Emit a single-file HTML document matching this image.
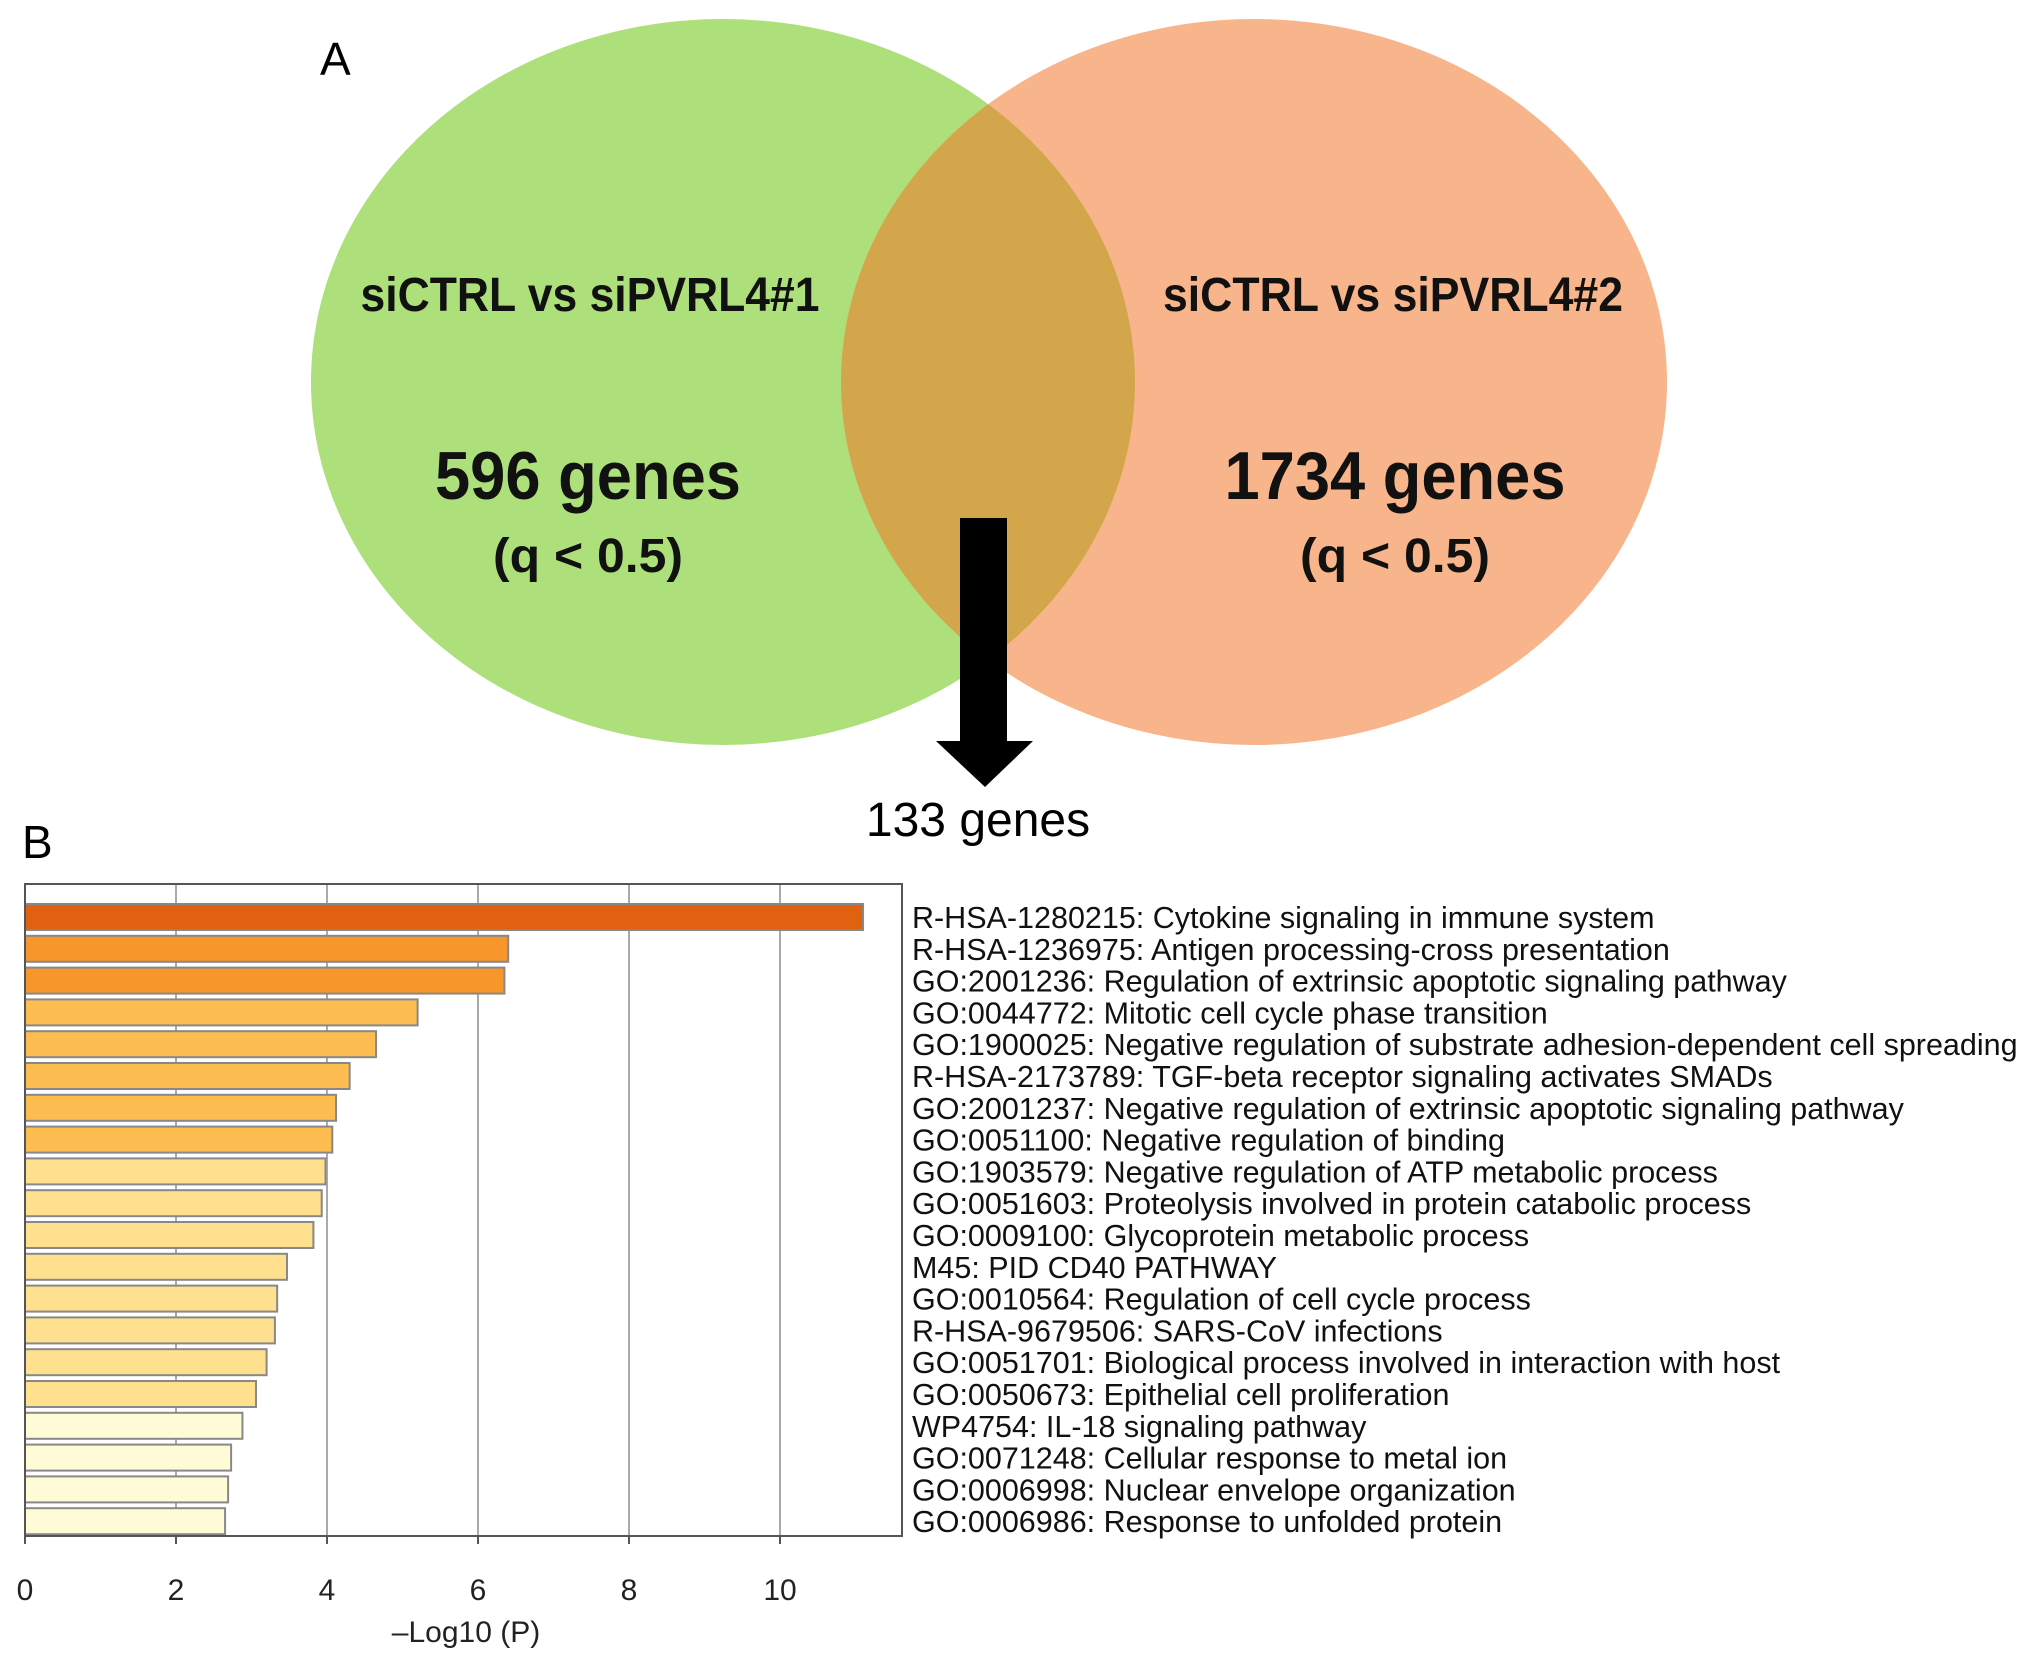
<!DOCTYPE html>
<html><head><meta charset="utf-8"><style>
html,body{margin:0;padding:0;background:#fff;}
svg{display:block;}
text{font-family:"Liberation Sans",sans-serif;}
</style></head><body>
<svg id="fig" width="2032" height="1658" viewBox="0 0 2032 1658">
<rect width="2032" height="1658" fill="#fff"/>
<text x="320" y="75" font-size="46">A</text>
<g>
<ellipse cx="723" cy="382" rx="412" ry="363" fill="#addf7a"/>
<ellipse cx="1254" cy="382" rx="413" ry="363" fill="#f8b48a"/>
<clipPath id="cl"><ellipse cx="723" cy="382" rx="412" ry="363"/></clipPath>
<ellipse cx="1254" cy="382" rx="413" ry="363" fill="#d4a64c" clip-path="url(#cl)"/>
<g font-weight="bold" text-anchor="middle" fill="#111">
<text x="590" y="311" font-size="48" textLength="459" lengthAdjust="spacingAndGlyphs">siCTRL vs siPVRL4#1</text>
<text x="588" y="499" font-size="68" textLength="306" lengthAdjust="spacingAndGlyphs">596 genes</text>
<text x="588" y="572" font-size="48" textLength="190" lengthAdjust="spacingAndGlyphs">(q &lt; 0.5)</text>
<text x="1393" y="311" font-size="48" textLength="460" lengthAdjust="spacingAndGlyphs">siCTRL vs siPVRL4#2</text>
<text x="1395" y="499" font-size="68" textLength="341" lengthAdjust="spacingAndGlyphs">1734 genes</text>
<text x="1395" y="572" font-size="48" textLength="190" lengthAdjust="spacingAndGlyphs">(q &lt; 0.5)</text>
</g>
<path d="M960 518 H1007 V741 H1033 L985 787 L936 741 H960 Z" fill="#000"/>
<text x="978" y="836" font-size="48" text-anchor="middle">133 genes</text>
</g>
<text x="22" y="858" font-size="46">B</text>
<g id="chart"></g>
</svg>
<script>
const terms=["R-HSA-1280215: Cytokine signaling in immune system","R-HSA-1236975: Antigen processing-cross presentation","GO:2001236: Regulation of extrinsic apoptotic signaling pathway","GO:0044772: Mitotic cell cycle phase transition","GO:1900025: Negative regulation of substrate adhesion-dependent cell spreading","R-HSA-2173789: TGF-beta receptor signaling activates SMADs","GO:2001237: Negative regulation of extrinsic apoptotic signaling pathway","GO:0051100: Negative regulation of binding","GO:1903579: Negative regulation of ATP metabolic process","GO:0051603: Proteolysis involved in protein catabolic process","GO:0009100: Glycoprotein metabolic process","M45: PID CD40 PATHWAY","GO:0010564: Regulation of cell cycle process","R-HSA-9679506: SARS-CoV infections","GO:0051701: Biological process involved in interaction with host","GO:0050673: Epithelial cell proliferation","WP4754: IL-18 signaling pathway","GO:0071248: Cellular response to metal ion","GO:0006998: Nuclear envelope organization","GO:0006986: Response to unfolded protein"];
const values=[11.1,6.4,6.35,5.2,4.65,4.3,4.12,4.07,3.98,3.93,3.82,3.47,3.34,3.31,3.2,3.06,2.88,2.73,2.69,2.65];
const xTicks=[0,2,4,6,8,10];
const xTitle="\u2013Log10 (P)";
const NS="http://www.w3.org/2000/svg";
const g=document.getElementById('chart');
const L=25,R=902,T=884,B=1536,x0=25,pxPer=75.5;
const xs=v=>x0+v*pxPer;
const pitch=31.8,firstC=917,bh=26;
const ys=i=>firstC+i*pitch;
function mk(t,a){const e=document.createElementNS(NS,t);for(const k in a)e.setAttribute(k,a[k]);g.appendChild(e);return e;}
function col(v){if(v>8)return"#e0610f";if(v>6)return"#f7962a";if(v>4.05)return"#fdbd50";if(v>3)return"#fee08f";return"#fffbd6";}
xTicks.forEach(t=>{if(t>0){const l=mk('line',{x1:xs(t),x2:xs(t),y1:T,y2:B,stroke:'#aaa','stroke-width':2});

}
const tk=mk('line',{x1:xs(t),x2:xs(t),y1:B,y2:B+8,stroke:'#555','stroke-width':2});


const tl=mk('text',{x:xs(t),y:1600,'font-size':30,'text-anchor':'middle',fill:'#222'});tl.textContent=t;

});
values.forEach((v,i)=>{const r=mk('rect',{x:L,y:ys(i)-bh/2,width:xs(v)-L,height:bh,fill:col(v),stroke:'#888','stroke-width':2});


const tx=mk('text',{x:912,y:ys(i)+11,'font-size':30.5,fill:'#111'});tx.textContent=terms[i];

});
const box=mk('rect',{x:L,y:T,width:R-L,height:B-T,fill:'none',stroke:'#555','stroke-width':2});


const xt=mk('text',{x:466,y:1642,'font-size':30,'text-anchor':'middle',fill:'#222'});xt.textContent=xTitle;


</script>
</body></html>
